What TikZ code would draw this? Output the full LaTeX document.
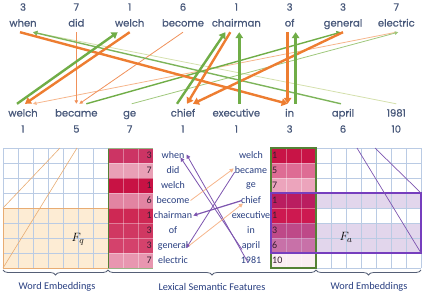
\documentclass[tikz,border=0pt]{standalone}
\usepackage{fontspec}
\setmainfont{Carlito}
\newfontfamily\topfont{Poppins}[FakeBold=0.7]
\usetikzlibrary{arrows.meta,decorations.pathreplacing}
\definecolor{og}{RGB}{237,125,49}
\definecolor{ogm}{RGB}{240,145,90}
\definecolor{ogl}{RGB}{246,182,140}
\definecolor{gr}{RGB}{112,173,71}
\definecolor{grm}{RGB}{125,180,90}
\definecolor{grl}{RGB}{160,200,125}
\definecolor{grll}{RGB}{212,224,172}
\definecolor{topc}{RGB}{72,88,122}
\definecolor{wordc}{RGB}{40,62,128}
\definecolor{gridc}{RGB}{186,203,228}
\definecolor{pur}{RGB}{112,48,160}
\definecolor{purbox}{RGB}{118,62,190}
\definecolor{purline}{RGB}{125,85,175}
\definecolor{hmg}{RGB}{84,130,53}
\definecolor{fqfill}{RGB}{253,236,212}
\definecolor{fqline}{RGB}{232,172,115}
\definecolor{bracec}{RGB}{85,95,118}
\definecolor{numc}{RGB}{55,30,50}
\definecolor{hlA}{RGB}{204,52,100}
\definecolor{hlB}{RGB}{233,160,182}
\definecolor{hlC}{RGB}{200,18,68}
\definecolor{hlD}{RGB}{226,132,162}
\definecolor{hlE}{RGB}{206,40,84}
\definecolor{hlF}{RGB}{208,56,98}
\definecolor{hlG}{RGB}{212,66,108}
\definecolor{hlH}{RGB}{232,150,176}
\definecolor{hrA}{RGB}{200,20,70}
\definecolor{hrB}{RGB}{222,108,148}
\definecolor{hrC}{RGB}{236,164,188}
\definecolor{hrD}{RGB}{205,25,80}
\definecolor{hrE}{RGB}{205,25,80}
\definecolor{hrF}{RGB}{210,80,130}
\definecolor{hrG}{RGB}{222,130,170}
\definecolor{hrH}{RGB}{250,238,242}
\begin{document}
\begin{tikzpicture}[x=1pt,y=-1pt,
  topw/.style={font=\topfont\fontsize{10}{11}\selectfont, text=topc, inner sep=0pt, text height=7pt, text depth=2pt, minimum height=16pt},
  botw/.style={font=\topfont\fontsize{10}{11}\selectfont, text=topc, inner sep=0pt, text height=7pt, text depth=2pt, minimum height=20pt},
  topn/.style={font=\topfont\fontsize{10}{11}\selectfont, text=topc, inner sep=0pt},
  thk/.style={line width=2.4pt, -{Triangle[length=6pt,width=7.5pt]}},
  mdm/.style={line width=1.4pt, -{Triangle[length=4.5pt,width=5pt]}},
  thn/.style={line width=0.8pt, -{Triangle[length=3.5pt,width=3.5pt]}},
  gridline/.style={gridc, line width=0.45pt},
  midw/.style={font=\fontsize{10}{11}\selectfont, text=wordc, inner sep=1pt},
  hnum/.style={font=\fontsize{10}{11}\selectfont, text=numc, inner sep=0.5pt},
  lab/.style={font=\fontsize{10.3}{11}\selectfont, text=wordc, inner sep=0pt},
  bracestyle/.style={bracec, line width=0.8pt, decorate, decoration={brace, mirror, amplitude=5pt}},
  parr/.style={purline, line width=0.8pt, -{Triangle[length=4pt,width=4pt]}},
  oarr/.style={ogl, line width=0.8pt, -{Triangle[length=4pt,width=4pt]}}
]
\useasboundingbox (0,0) rectangle (426,295);

% ---------- top section ----------
\foreach \w [count=\i] in {when,did,welch,become,chairman,of,general,electric}
  \node[topw] (t\i) at ({23+53.33*(\i-1)},24) {\w};
\foreach \n [count=\i] in {3,7,1,6,1,3,3,7}
  \node[topn] (tn\i) at ({23+53.33*(\i-1)},7) {\n};
\foreach \w [count=\i] in {welch,became,ge,chief,executive,in,april,1981}
  \node[botw] (b\i) at ({23+53.33*(\i-1)},114) {\w};
\foreach \n [count=\i] in {1,5,7,1,1,3,6,10}
  \node[topn] (bn\i) at ({23+53.33*(\i-1)},129) {\n};

% light / thin lines first
\draw[thn, grll] (b8.north) -- ([xshift=10pt]t1.south);
\draw[thn, ogl] (t8.south) -- ([xshift=10pt]b1.north);
\draw[thn, grl] ([xshift=2pt]b3.north) -- ([xshift=2pt]t8.south);
\draw[thn, ogm] (t2.south) -- (b2.north);
\draw[thn, ogm] (t4.south) -- ([xshift=3pt]b2.north);
\draw[mdm, grm] ([xshift=-2pt]b7.north) -- ([xshift=10pt]t1.south);
\draw[mdm, gr] ([xshift=10pt]b2.north) -- ([xshift=-2pt]t7.south);
% thick orange
\draw[thk, og] ([xshift=-3pt]t1.south) -- ([xshift=-2pt]b6.north);
\draw[thk, og] (t3.south) -- ([xshift=2pt]b1.north);
\draw[thk, og] ([xshift=-6pt]t5.south) -- ([xshift=4pt]b4.north);
\draw[thk, og] ([xshift=-2pt]t6.south) -- ([xshift=-2pt]b6.north);
\draw[thk, og] (t7.south) -- ([xshift=10pt]b4.north);
% thick green
\draw[thk, gr] ([xshift=-6pt]b1.north) -- ([xshift=-12pt]t3.south);
\draw[thk, gr] ([xshift=-6pt]b4.north) -- ([xshift=-11pt]t5.south);
\draw[thk, gr] ([xshift=3pt]b5.north) -- ([xshift=3pt]t5.south);
\draw[thk, gr] ([xshift=6pt]b6.north) -- ([xshift=6pt]t6.south);

% ---------- bottom section ----------
% left word-embedding grid
\fill[fqfill] (3,208) rectangle (108,268);
\foreach \k in {0,...,7} \draw[gridline] ({3+15*\k},148) -- ({3+15*\k},268);
\foreach \k in {0,...,8} \draw[gridline] (3,{148+15*\k}) -- (108,{148+15*\k});
\draw[fqline, line width=0.9pt] (3,208) rectangle (108,268);
\draw[fqline, line width=0.6pt] (3,208) -- (60,148);
\draw[fqline, line width=0.6pt] (3,268) -- (77,148);
\node[font=\fontsize{13}{14}\selectfont] (fq) at (78,239) {$F_q$};

% left heatmap
\foreach \c [count=\i from 0] in {hlA,hlB,hlC,hlD,hlE,hlF,hlG,hlH}
  \fill[\c] (108,{148+15*\i}) rectangle (153,{163+15*\i});
\foreach \k in {1,2} \draw[white, opacity=0.35, line width=0.4pt] ({108+15*\k},148) -- ({108+15*\k},268);
\foreach \k in {1,...,7} \draw[white, opacity=0.35, line width=0.4pt] (108,{148+15*\k}) -- (153,{148+15*\k});
\draw[hmg, line width=0.8pt] (108,148) -- (108,268);
\draw[hmg!60, line width=0.5pt] (108,148) -- (153,148) (108,268) -- (153,268);
\foreach \n [count=\i from 0] in {3,7,1,6,1,3,3,7}
  \node[hnum, anchor=east] (hl\i) at (152.5,{155.5+15*\i}) {\n};

% right heatmap
\foreach \c [count=\i from 0] in {hrA,hrB,hrC,hrD,hrE,hrF,hrG,hrH}
  \fill[\c] (271,{148+15*\i}) rectangle (316,{163+15*\i});
\foreach \k in {1,2} \draw[white, opacity=0.35, line width=0.4pt] ({271+15*\k},148) -- ({271+15*\k},268);
\foreach \k in {1,...,7} \draw[white, opacity=0.35, line width=0.4pt] (271,{148+15*\k}) -- (316,{148+15*\k});
% purple answer-span fill
\fill[pur, opacity=0.2] (271,193) rectangle (421,208);
\fill[pur, opacity=0.2] (271,223) rectangle (421,253);
% right grid
\foreach \k in {0,...,7} \draw[gridline] ({316+15*\k},148) -- ({316+15*\k},268);
\foreach \k in {0,...,8} \draw[gridline] (316,{148+15*\k}) -- (421,{148+15*\k});
\draw[hmg, line width=1.1pt] (271,148) rectangle (316,268);
\draw[purbox, line width=1.4pt] (271,193) rectangle (421,253);
\draw[purline, line width=0.7pt] (357,148) -- (421,253);
\draw[purline, line width=0.7pt] (375,148) -- (421,193);
\node[font=\fontsize{13}{14}\selectfont] (fa) at (346,237) {$F_a$};
\foreach \n [count=\i from 0] in {1,5,7,1,1,3,6,10}
  \node[hnum, anchor=west] (hr\i) at (271.5,{155.5+15*\i}) {\n};

% middle words
\foreach \w [count=\i] in {when,did,welch,become,chairman,of,general,electric}
  \node[midw] (qw\i) at (173,{155.5+15*(\i-1)}) {\w};
\foreach \w [count=\i] in {welch,became,ge,chief,executive,in,april,1981}
  \node[midw] (aw\i) at (251,{155.5+15*(\i-1)}) {\w};

% middle connectors
\draw[parr] ([xshift=-9pt,yshift=-4pt]aw7.center) -- ([xshift=-5pt,yshift=-2pt]qw1.east);
\draw[parr] ([xshift=-3pt,yshift=-2pt]aw8.center) -- ([xshift=1pt,yshift=1pt]qw1.east);
\draw[oarr] (qw4.east) -- ([yshift=2pt]aw2.west);
\draw[parr] ([xshift=1pt,yshift=-1.5pt]aw2.west) -- ([xshift=-3pt,yshift=-2.5pt]qw7.east);
\draw[parr, line width=1.2pt] ([xshift=2pt]aw4.west) -- (qw5.east);
\draw[oarr] (qw7.east) -- ([xshift=3pt,yshift=-3pt]aw4.west);

% braces and labels
\draw[bracestyle] (3,270) -- (108,270);
\draw[bracestyle] (108,270) -- (316,270);
\draw[bracestyle] (316,270) -- (421,270);
\node[lab] (we1) at (57,287) {Word Embeddings};
\node[lab] (lsf) at (212,287) {Lexical Semantic Features};
\node[lab] (we2) at (369,287) {Word Embeddings};
\end{tikzpicture}
\end{document}
